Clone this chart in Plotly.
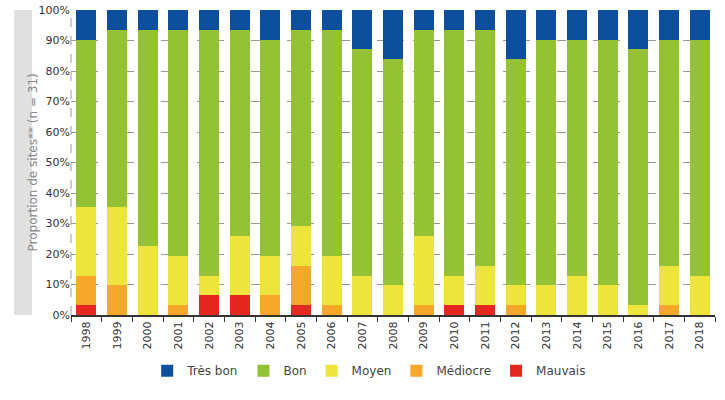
import plotly.graph_objects as go

years = [str(y) for y in range(1998, 2019)]
mauvais = [1, 0, 0, 0, 2, 2, 0, 1, 0, 0, 0, 0, 1, 1, 0, 0, 0, 0, 0, 0, 0]
mediocre = [3, 3, 0, 1, 0, 0, 2, 4, 1, 0, 0, 1, 0, 0, 1, 0, 0, 0, 0, 1, 0]
moyen = [7, 8, 7, 5, 2, 6, 4, 4, 5, 4, 3, 7, 3, 4, 2, 3, 4, 3, 1, 4, 4]
bon = [17, 18, 22, 23, 25, 21, 22, 20, 23, 23, 23, 21, 25, 24, 23, 25, 24, 25, 26, 23, 24]
tres_bon = [3, 2, 2, 2, 2, 2, 3, 2, 2, 4, 5, 2, 2, 2, 5, 3, 3, 3, 4, 3, 3]

series = [
    ("Mauvais", mauvais, "#e52722"),
    ("Médiocre", mediocre, "#f5a82a"),
    ("Moyen", moyen, "#ede43c"),
    ("Bon", bon, "#95c134"),
    ("Très bon", tres_bon, "#0d4f9c"),
]

fig = go.Figure()
for name, vals, col in series:
    fig.add_trace(go.Bar(x=years, y=vals, name=name, marker=dict(color=col, line=dict(width=0))))

fig.update_layout(
    barmode="stack",
    barnorm="percent",
    bargap=0.35,
    width=725, height=400,
    margin=dict(l=71, r=10, t=10, b=85, autoexpand=False),
    plot_bgcolor="white", paper_bgcolor="white",
    font=dict(family="DejaVu Sans", size=11, color="#333"),
    legend=dict(orientation="h", traceorder="reversed", x=0.463, xanchor="center",
                y=-0.135, yanchor="top", font=dict(size=12, color="#444"),
                itemwidth=30),
    showlegend=True,
)
fig.update_yaxes(range=[0, 100], dtick=10, ticksuffix="%", showgrid=True,
                 gridcolor="#999", griddash="dash", gridwidth=1, zeroline=False,
                 showline=False, ticks="", tickfont=dict(size=11, color="#333"))
fig.update_xaxes(tickangle=-90, showline=True, linecolor="#333", linewidth=2,
                 ticks="outside", tickson="boundaries", ticklen=5, tickcolor="#333",
                 tickfont=dict(size=11, color="#333"))

# grey band for y title
fig.add_shape(type="rect", xref="paper", yref="paper", x0=-57/644, x1=-39/644, y0=0, y1=1,
              fillcolor="#e0e0e0", line=dict(width=0), layer="below")
# dashed left border
fig.add_shape(type="line", xref="paper", yref="paper", x0=0, x1=0, y0=0, y1=1,
              line=dict(color="#999", width=1, dash="dash"))
fig.add_annotation(text="Proportion de sites** (n = 31)", xref="paper", yref="paper",
                   x=-48/644, y=0.5, textangle=-90, showarrow=False,
                   font=dict(size=12, color="#888"))

fig.write_html("out.html", config={"displayModeBar": False},
               post_script="document.body.style.margin='0';document.body.style.overflow='hidden';")
